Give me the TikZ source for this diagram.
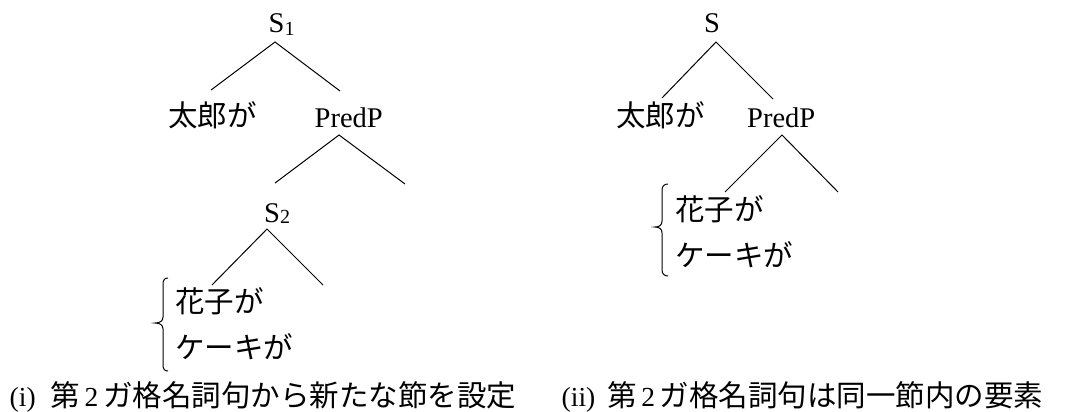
\documentclass[tikz,border=0pt]{standalone}
\usepackage{fontspec}
\setmainfont{Liberation Serif}
\newfontfamily\cjk{Noto Sans CJK JP}
\newcommand{\jpfont}{\cjk\fontsize{29.5}{32}\selectfont}
\begin{document}
\begin{tikzpicture}[x=1pt,y=-1pt,
  lat/.style={inner sep=0pt,anchor=base west,font=\fontsize{28.5}{30}\selectfont},
  jp/.style={inner sep=0pt,anchor=base west,font=\jpfont},
  captext/.style={inner sep=0pt,anchor=base west,font=\fontsize{27.5}{30}\selectfont},
  branch/.style={line width=1pt},
  bracestyle/.style={line width=1pt}]
\useasboundingbox (0,0) rectangle (1076,412);
\newcommand{\sbs}[2]{\raisebox{#1}{\fontsize{20}{20}\selectfont #2}}
% ---------- left tree ----------
\node[lat] (S1) at (268.5,33) {S\sbs{-2.5pt}{1}};
\node[jp] (taroL) at (168,126.5) {太郎が};
\node[lat] (predL) at (314.5,127) {PredP};
\node[lat] (S2) at (264,222.5) {S\sbs{-0.5pt}{2}};
\node[jp] (hanakoL) at (175,312.5) {花子が};
\node[jp] (cakeL) at (175,358) {ケーキが};
\coordinate (a1) at (275,42);
\coordinate (a1l) at (211,90);
\coordinate (a1r) at (340,91);
\coordinate (a2) at (339,135);
\coordinate (a2l) at (275,183);
\coordinate (a2r) at (405,184);
\coordinate (a3) at (267,229);
\coordinate (a3l) at (212,285);
\coordinate (a3r) at (323,285);
\draw[branch] (a1l) -- (a1) -- (a1r);
\draw[branch] (a2l) -- (a2) -- (a2r);
\draw[branch] (a3l) -- (a3) -- (a3r);
\draw[bracestyle] (168,278) .. controls (164.5,278) and (163,280) .. (163,284) -- (163,317)
  .. controls (163,321) and (160,323) .. (155,323)
  .. controls (160,323) and (163,325) .. (163,329) -- (163,365)
  .. controls (163,369) and (164.5,371) .. (168,371);
\node[captext] (capL) at (9.5,406) {(i)\hspace{15pt}{\jpfont 第}\,2\,{\jpfont ガ格名詞句から新たな節を設定}};
% ---------- right tree ----------
\node[lat] (S) at (704,33) {S};
\node[jp] (taroR) at (616,126.5) {太郎が};
\node[lat] (predR) at (747,127) {PredP};
\node[jp] (hanakoR) at (675,220) {花子が};
\node[jp] (cakeR) at (675,266) {ケーキが};
\coordinate (b1) at (716,42);
\coordinate (b1l) at (662,98);
\coordinate (b1r) at (773,99);
\coordinate (b2) at (782,135);
\coordinate (b2l) at (725,192);
\coordinate (b2r) at (838,192);
\draw[branch] (b1l) -- (b1) -- (b1r);
\draw[branch] (b2l) -- (b2) -- (b2r);
\draw[bracestyle] (668,184) .. controls (664.5,184) and (662,186) .. (662,190) -- (662,221)
  .. controls (662,225) and (659.5,227) .. (655,227)
  .. controls (659.5,227) and (662,229) .. (662,233) -- (662,270)
  .. controls (662,274) and (664.5,276) .. (668,276);
\node[captext] (capR) at (561.5,406) {(ii)\hspace{12pt}{\jpfont 第}\,2\,{\jpfont ガ格名詞句は同一節内の要素}};
\end{tikzpicture}
\end{document}
